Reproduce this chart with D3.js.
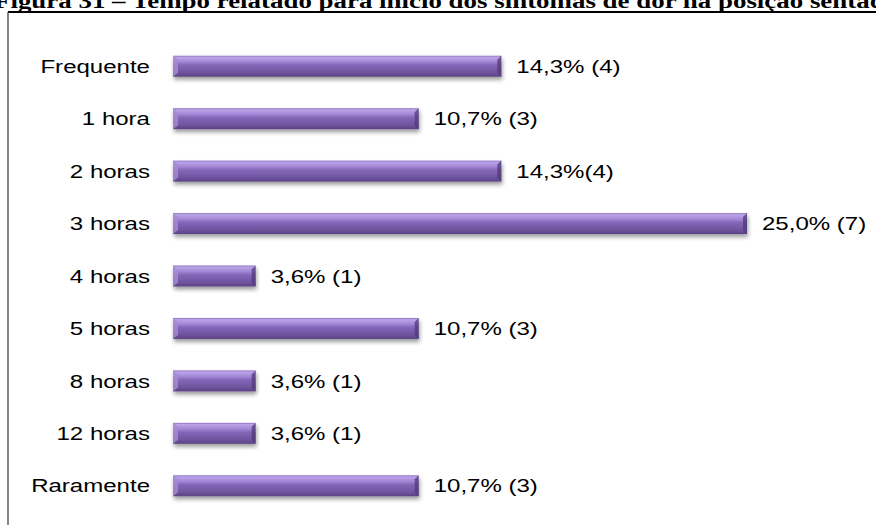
<!DOCTYPE html>
<html>
<head>
<meta charset="utf-8">
<script src="https://cdn.jsdelivr.net/npm/d3@7"></script>
<style>
  html, body { margin: 0; padding: 0; background: #fff; }
  svg { display: block; }
</style>
</head>
<body>
<svg id="chart" width="876" height="525"></svg>
<script>
// Tempo relatado para início dos sintomas de dor na posição sentada
const categories = ["Frequente", "1 hora", "2 horas", "3 horas", "4 horas", "5 horas", "8 horas", "12 horas", "Raramente"];
const percents   = [14.3, 10.7, 14.3, 25.0, 3.6, 10.7, 3.6, 3.6, 10.7];
const counts     = [4, 3, 4, 7, 1, 3, 1, 1, 3];
const labelGaps  = [" ", " ", "", " ", " ", " ", " ", " ", " "];
const titleText  = "Figura 31 – Tempo relatado para início dos sintomas de dor na posição sentada";

const svg = d3.select("#chart");
const W = 876, H = 525;
const SX = 1.3; // horizontal text stretch

const fmt = p => d3.format(".1f")(p).replace(".", ",");
const rows = categories.map((c, i) => ({
  cat: c, pct: percents[i], n: counts[i],
  label: fmt(percents[i]) + "%" + labelGaps[i] + "(" + counts[i] + ")"
}));

const defs = svg.append("defs");
const grad = defs.append("linearGradient").attr("id", "barFill")
  .attr("x1", 0).attr("y1", 0).attr("x2", 0).attr("y2", 1);
[["0%", "#8d72bf"], ["8%", "#bba3e8"], ["28%", "#a488d6"], ["45%", "#8466b8"],
 ["80%", "#6f549e"], ["100%", "#5a4283"]].forEach(([o, c]) =>
  grad.append("stop").attr("offset", o).attr("stop-color", c));

const shadow = defs.append("filter").attr("id", "shadow")
  .attr("x", "-5%").attr("y", "-40%").attr("width", "110%").attr("height", "200%");
shadow.append("feGaussianBlur").attr("in", "SourceAlpha").attr("stdDeviation", 2).attr("result", "b");
shadow.append("feOffset").attr("in", "b").attr("dx", 1).attr("dy", 3).attr("result", "o");
shadow.append("feComponentTransfer").attr("in", "o").attr("result", "s")
  .append("feFuncA").attr("type", "linear").attr("slope", 0.4);
const m = shadow.append("feMerge");
m.append("feMergeNode").attr("in", "s");
m.append("feMergeNode").attr("in", "SourceGraphic");

// title (runs past the top and right edges of the page)
svg.append("text")
  .attr("transform", `translate(-6,8) scale(${SX},1)`)
  .attr("font-family", "'Liberation Serif', 'Times New Roman', serif")
  .attr("font-weight", "bold")
  .attr("font-size", 20.7)
  .attr("fill", "#000")
  .text(titleText);

// frame
svg.append("line").attr("x1", 8).attr("x2", W).attr("y1", 12).attr("y2", 12)
  .attr("stroke", "#000").attr("stroke-width", 2);
svg.append("line").attr("x1", 8).attr("x2", 8).attr("y1", 12).attr("y2", H)
  .attr("stroke", "#444").attr("stroke-width", 1.3);

const x = d3.scaleLinear().domain([0, 25]).range([173, 747]);
const y = d3.scaleBand().domain(categories).range([40, 512]).paddingInner(0.6).paddingOuter(0.3);
const bh = y.bandwidth();

const g = svg.append("g").selectAll("g").data(rows).join("g");

g.append("rect")
  .attr("x", x(0)).attr("y", d => y(d.cat))
  .attr("width", d => x(d.pct) - x(0)).attr("height", bh)
  .attr("fill", "url(#barFill)")
  .attr("filter", "url(#shadow)");

// bevel at both ends
g.append("path")
  .attr("d", d => {
    const x0 = x(0), y0 = y(d.cat);
    return `M${x0},${y0} L${x0 + 5},${y0 + 4} L${x0 + 5},${y0 + bh - 4} L${x0},${y0 + bh}Z`;
  })
  .attr("fill", "#a58bd6").attr("opacity", 0.8);
g.append("path")
  .attr("d", d => {
    const x1 = x(d.pct), y0 = y(d.cat);
    return `M${x1},${y0} L${x1 - 4},${y0 + 4} L${x1 - 4},${y0 + bh - 4} L${x1},${y0 + bh}Z`;
  })
  .attr("fill", "#4f3a75").attr("opacity", 0.75);

const font = "Arial, 'Liberation Sans', sans-serif";
const mid = d => y(d.cat) + bh / 2 + 6.7;

g.append("text")
  .attr("transform", d => `translate(150,${mid(d)}) scale(${SX},1)`)
  .attr("text-anchor", "end")
  .attr("font-family", font).attr("font-size", 18.5).attr("fill", "#000")
  .text(d => d.cat);

g.append("text")
  .attr("transform", d => `translate(${x(d.pct) + 15},${mid(d)}) scale(${SX},1)`)
  .attr("font-family", font).attr("font-size", 18.5).attr("fill", "#000")
  .text(d => d.label);
</script>
</body>
</html>
